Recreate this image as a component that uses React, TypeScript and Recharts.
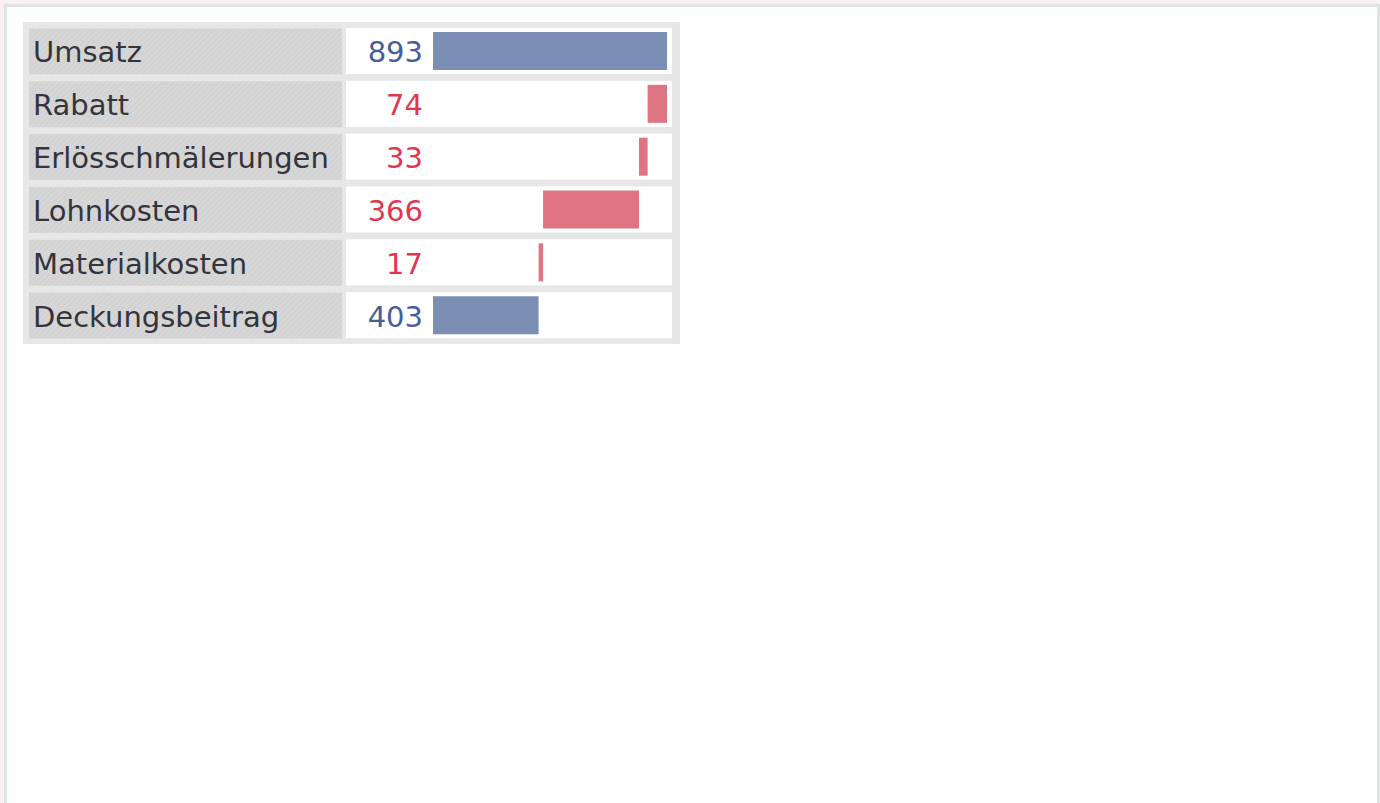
import React from 'react';
import { BarChart, Bar, XAxis, YAxis, Cell } from 'recharts';

const categories = ['Umsatz', 'Rabatt', 'Erlösschmälerungen', 'Lohnkosten', 'Materialkosten', 'Deckungsbeitrag'];
const amounts = [893, 74, 33, 366, 17, 403];
const kinds = ['total', 'minus', 'minus', 'minus', 'minus', 'total'];
const xDomain = [0, 912];

const BLUE_BAR = '#7b8fb4';
const RED_BAR = '#df7482';
const BLUE_TEXT = '#44609a';
const RED_TEXT = '#e0364e';
const FONT = '"DejaVu Sans", Verdana, sans-serif';

let running = 0;
const data = categories.map((name, i) => {
  const v = amounts[i];
  let base = 0;
  if (kinds[i] === 'total') {
    base = 0;
    running = v;
  } else {
    running -= v;
    base = running;
  }
  return { name, base, value: v, kind: kinds[i] };
});

const CELL_H = 46;
const VALUE_COL = 87;

const renderBg = (p: any) => (
  <rect
    key={`bg-${p.index}`}
    x={p.x - VALUE_COL}
    y={p.y + p.height / 2 - CELL_H / 2}
    width={p.width + VALUE_COL}
    height={CELL_H}
    fill="#ffffff"
  />
);

const renderTick = (props: any) => {
  const { y, payload } = props;
  const row = data.find((d) => d.name === payload.value);
  const color = row && row.kind === 'total' ? BLUE_TEXT : RED_TEXT;
  return (
    <g key={`t-${payload.value}`}>
      <rect x={6} y={y - CELL_H / 2} width={313} height={CELL_H} fill="url(#hatch)" />
      <text x={10} y={y + 11} fontSize={29} fill="#34343c" fontFamily={FONT} textAnchor="start">
        {payload.value}
      </text>
      <text x={400} y={y + 11} fontSize={29} fill={color} fontFamily={FONT} textAnchor="end">
        {row ? row.value : ''}
      </text>
    </g>
  );
};

export default function App() {
  return (
    <div style={{ position: 'absolute', left: 0, top: 0, width: 1380, height: 803, background: '#f7f1f4', overflow: 'hidden' }}>
      <div
        style={{
          position: 'absolute',
          left: 4,
          top: 4,
          width: 1370,
          height: 900,
          background: '#fefefe',
          borderLeft: '3px solid #dfe4e2',
          borderTop: '3px solid #dfe4e2',
          borderRight: '3px solid #dfe4e2',
        }}
      />
      <div style={{ position: 'absolute', left: 23, top: 22, width: 657, height: 322, background: '#e7e7e7' }}>
        <BarChart
          width={657}
          height={322}
          data={data}
          layout="vertical"
          barSize={38}
          margin={{ top: 3, right: 8, bottom: 2, left: 0 }}
        >
          <defs>
            <pattern id="hatch" width="4" height="4" patternUnits="userSpaceOnUse" patternTransform="rotate(45)">
              <rect width="4" height="4" fill="#d7d7d7" />
              <rect width="2" height="4" fill="#d2d2d2" />
            </pattern>
          </defs>
          <Bar dataKey="base" stackId="w" fill="transparent" isAnimationActive={false} />
          <Bar dataKey="value" stackId="w" background={renderBg} isAnimationActive={false}>
            {data.map((d, i) => (
              <Cell key={`c-${i}`} fill={d.kind === 'total' ? BLUE_BAR : RED_BAR} />
            ))}
          </Bar>
          <XAxis type="number" domain={xDomain} hide />
          <YAxis
            type="category"
            dataKey="name"
            width={410}
            axisLine={false}
            tickLine={false}
            interval={0}
            tick={renderTick}
          />
        </BarChart>
      </div>
    </div>
  );
}
